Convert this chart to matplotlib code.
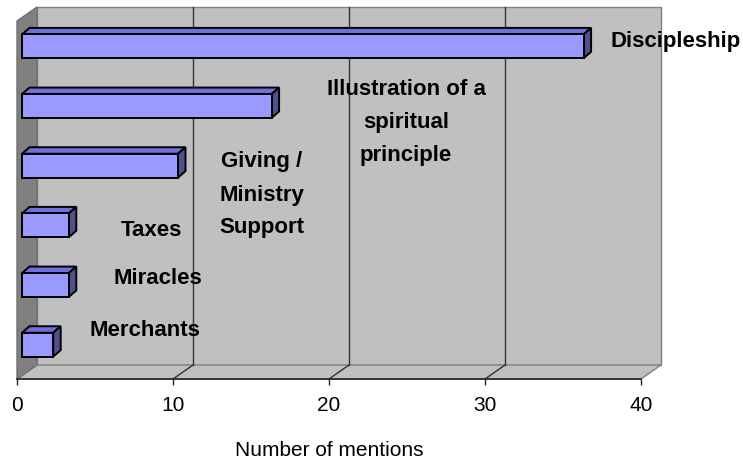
import matplotlib
matplotlib.use("Agg")
import matplotlib.pyplot as plt
from matplotlib.patches import Polygon
from matplotlib.transforms import IdentityTransform, ScaledTranslation

plt.rcParams['font.family'] = ['Liberation Sans', 'DejaVu Sans']

# ---- data (bottom to top) ----
categories = ["Merchants", "Miracles", "Taxes", "Giving / Ministry Support",
              "Illustration of a spiritual principle", "Discipleship"]
values = [2, 3, 3, 10, 16, 36]
xticks = [0, 10, 20, 30, 40]
xlabel = "Number of mentions"

W, H = 743, 462
DPI = 100
fig = plt.figure(figsize=(W / DPI, H / DPI), dpi=DPI)
fig.patch.set_facecolor('white')

ax = fig.add_axes([17 / W, 1 - 379 / H, (641 - 17) / W, (379 - 21) / H])
ax.set_xlim(0, 40)
ax.set_ylim(-0.5, len(categories) - 0.5)
ax.patch.set_visible(False)

WALL_D = (20, 14)      # depth of the chart box (px)
BAR_OFF = (5, 4.5)     # bars sit mid-depth
BAR_D = (7.5, 6.5)     # depth of each bar

ident = IdentityTransform()


def px(x, y, dx=0.0, dy=0.0):
    p = ax.transData.transform((x, y))
    return (p[0] + dx, p[1] + dy)


def poly(pts, fc, ec, lw, z):
    p = Polygon(pts, closed=True, facecolor=fc, edgecolor=ec, linewidth=lw,
                transform=ident, zorder=z, clip_on=False)
    ax.add_patch(p)


x0, x1 = ax.get_xlim()
y0, y1 = ax.get_ylim()
dx, dy = WALL_D

# back wall
poly([px(x0, y0, dx, dy), px(x1, y0, dx, dy), px(x1, y1, dx, dy), px(x0, y1, dx, dy)],
     '#C0C0C0', '#808080', 1.0, 0)
# floor
poly([px(x0, y0), px(x1, y0), px(x1, y0, dx, dy), px(x0, y0, dx, dy)],
     '#C0C0C0', '#808080', 1.0, 0)
# left wall
poly([px(x0, y0), px(x0, y1), px(x0, y1, dx, dy), px(x0, y0, dx, dy)],
     '#808080', '#707070', 1.0, 0.5)

# gridlines on back wall and floor
for t in xticks[1:-1]:
    a, b = px(t, y0, dx, dy), px(t, y1, dx, dy)
    ax.plot([a[0], b[0]], [a[1], b[1]], color='#333333', lw=1.0,
            transform=ident, zorder=1, clip_on=False)
    c = px(t, y0)
    ax.plot([c[0], a[0]], [c[1], a[1]], color='#333333', lw=1.0,
            transform=ident, zorder=1, clip_on=False)

# bars
bh = 0.4
off = ScaledTranslation(BAR_OFF[0] / DPI, BAR_OFF[1] / DPI, fig.dpi_scale_trans)
bars = ax.barh(range(len(values)), values, height=bh, color='#9999FF',
               edgecolor='black', linewidth=1.4, zorder=3,
               transform=ax.transData + off)
bdx, bdy = BAR_D
for i, v in enumerate(values):
    l_b = px(0, i - bh / 2, *BAR_OFF)
    r_t = px(v, i + bh / 2, *BAR_OFF)
    r_b = px(v, i - bh / 2, *BAR_OFF)
    l_t = px(0, i + bh / 2, *BAR_OFF)
    poly([l_t, r_t, (r_t[0] + bdx, r_t[1] + bdy), (l_t[0] + bdx, l_t[1] + bdy)],
         '#7070DD', 'black', 1.4, 2.9)
    poly([r_b, (r_b[0] + bdx, r_b[1] + bdy), (r_t[0] + bdx, r_t[1] + bdy), r_t],
         '#50508F', 'black', 1.4, 2.9)

ax.set_xlim(x0, x1)
ax.set_ylim(y0, y1)

# axes styling
for s in ['top', 'right', 'left']:
    ax.spines[s].set_visible(False)
ax.spines['bottom'].set_color('#222222')
ax.spines['bottom'].set_linewidth(1.2)
ax.spines['bottom'].set_zorder(2)
ax.set_yticks([])
ax.set_xticks(xticks)
ax.set_xticklabels([str(t) for t in xticks])
ax.tick_params(axis='x', direction='out', length=4, width=1, color='#222222',
               pad=8, labelsize=15)

fig.text(329 / W, 1 - 451 / H, xlabel, ha='center', va='center', fontsize=15)

# data labels (category names)
lab_kw = dict(fontsize=16, fontweight='bold', color='black', zorder=5,
              multialignment='center', linespacing=1.75)
label_pos = {
    "Discipleship": (611, 42, 'left'),
    "Illustration of a spiritual principle": (406, 123, 'center'),
    "Giving / Ministry Support": (262, 195, 'center'),
    "Taxes": (151, 231, 'center'),
    "Miracles": (158, 278, 'center'),
    "Merchants": (145, 331, 'center'),
}
label_text = {
    "Discipleship": "Discipleship",
    "Illustration of a spiritual principle": "Illustration of a\nspiritual\nprinciple",
    "Giving / Ministry Support": "Giving /\nMinistry\nSupport",
    "Taxes": "Taxes",
    "Miracles": "Miracles",
    "Merchants": "Merchants",
}
for c in categories:
    x, y, ha = label_pos[c]
    fig.text(x / W, 1 - y / H, label_text[c], ha=ha, va='center', **lab_kw)

fig.savefig("out.png", dpi=DPI)
